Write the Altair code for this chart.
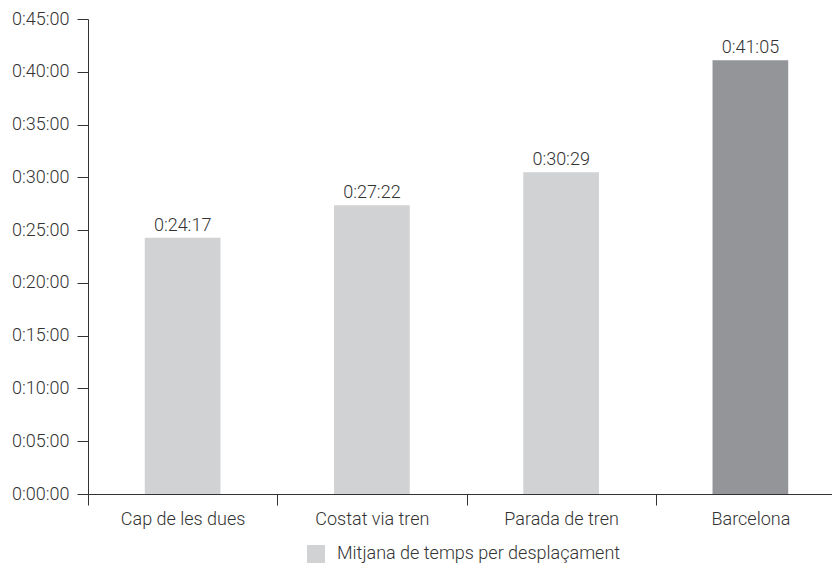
import altair as alt
import pandas as pd

categories = ["Cap de les dues", "Costat via tren", "Parada de tren", "Barcelona"]
minutes = [24, 27, 30, 41]
secs = [17, 22, 29, 5]
legend_label = "Mitjana de temps per desplaçament"
series = [legend_label, legend_label, legend_label, "Barcelona"]
y_ticks = [0, 300, 600, 900, 1200, 1500, 1800, 2100, 2400, 2700]

df = pd.DataFrame({
    "cat": categories,
    "seconds": [m * 60 + s for m, s in zip(minutes, secs)],
    "serie": series,
})

FONT = "Roboto"
TXT = "#333333"
W = 300

x = alt.X("cat:N", sort=categories,
          scale=alt.Scale(range=[0, 757], paddingInner=0, paddingOuter=0),
          axis=alt.Axis(title=None, tickBand="extent", tickSize=11, labelPadding=5,
                        labelFontSize=18, labelFont=FONT, labelColor=TXT, labelFontWeight=W,
                        domainColor=TXT, tickColor=TXT, labelAngle=0))
y = alt.Y("seconds:Q",
          scale=alt.Scale(domain=[0, 2700], nice=False),
          axis=alt.Axis(title=None, values=y_ticks, grid=False, tickSize=11, labelPadding=8,
                        labelFontSize=18, labelFont=FONT, labelColor=TXT, labelFontWeight=W,
                        domainColor=TXT, tickColor=TXT,
                        labelExpr="utcFormat(datum.value*1000, '%-H:%M:%S')"))

bars = alt.Chart(df).mark_bar(width=alt.RelativeBandSize(0.4)).encode(
    x=x, y=y,
    color=alt.Color("serie:N",
                    scale=alt.Scale(domain=[legend_label, "Barcelona"], range=["#d1d2d4", "#939598"]),
                    legend=alt.Legend(title=None, values=[legend_label], orient="none",
                                      legendX=219, legendY=526, symbolType="square",
                                      symbolSize=324, symbolStrokeWidth=0, labelFontSize=18,
                                      labelFont=FONT, labelColor=TXT, labelFontWeight=W,
                                      labelOffset=12, padding=0, labelLimit=0)),
)

labels = alt.Chart(df).transform_calculate(
    lab="utcFormat(datum.seconds*1000, '%-H:%M:%S')"
).mark_text(baseline="alphabetic", dy=-7, fontSize=18, font=FONT, color=TXT, fontWeight=W).encode(
    x=alt.X("cat:N", sort=categories), y="seconds:Q", text="lab:N")

chart = alt.layer(bars, labels).properties(
    width=744, height=475,
    autosize=alt.AutoSizeParams(type="none"),
    padding={"left": 80, "top": 11, "right": 0, "bottom": 69},
).configure_view(stroke=None)

chart.save("out.html", embed_options={"renderer": "svg", "actions": False})
